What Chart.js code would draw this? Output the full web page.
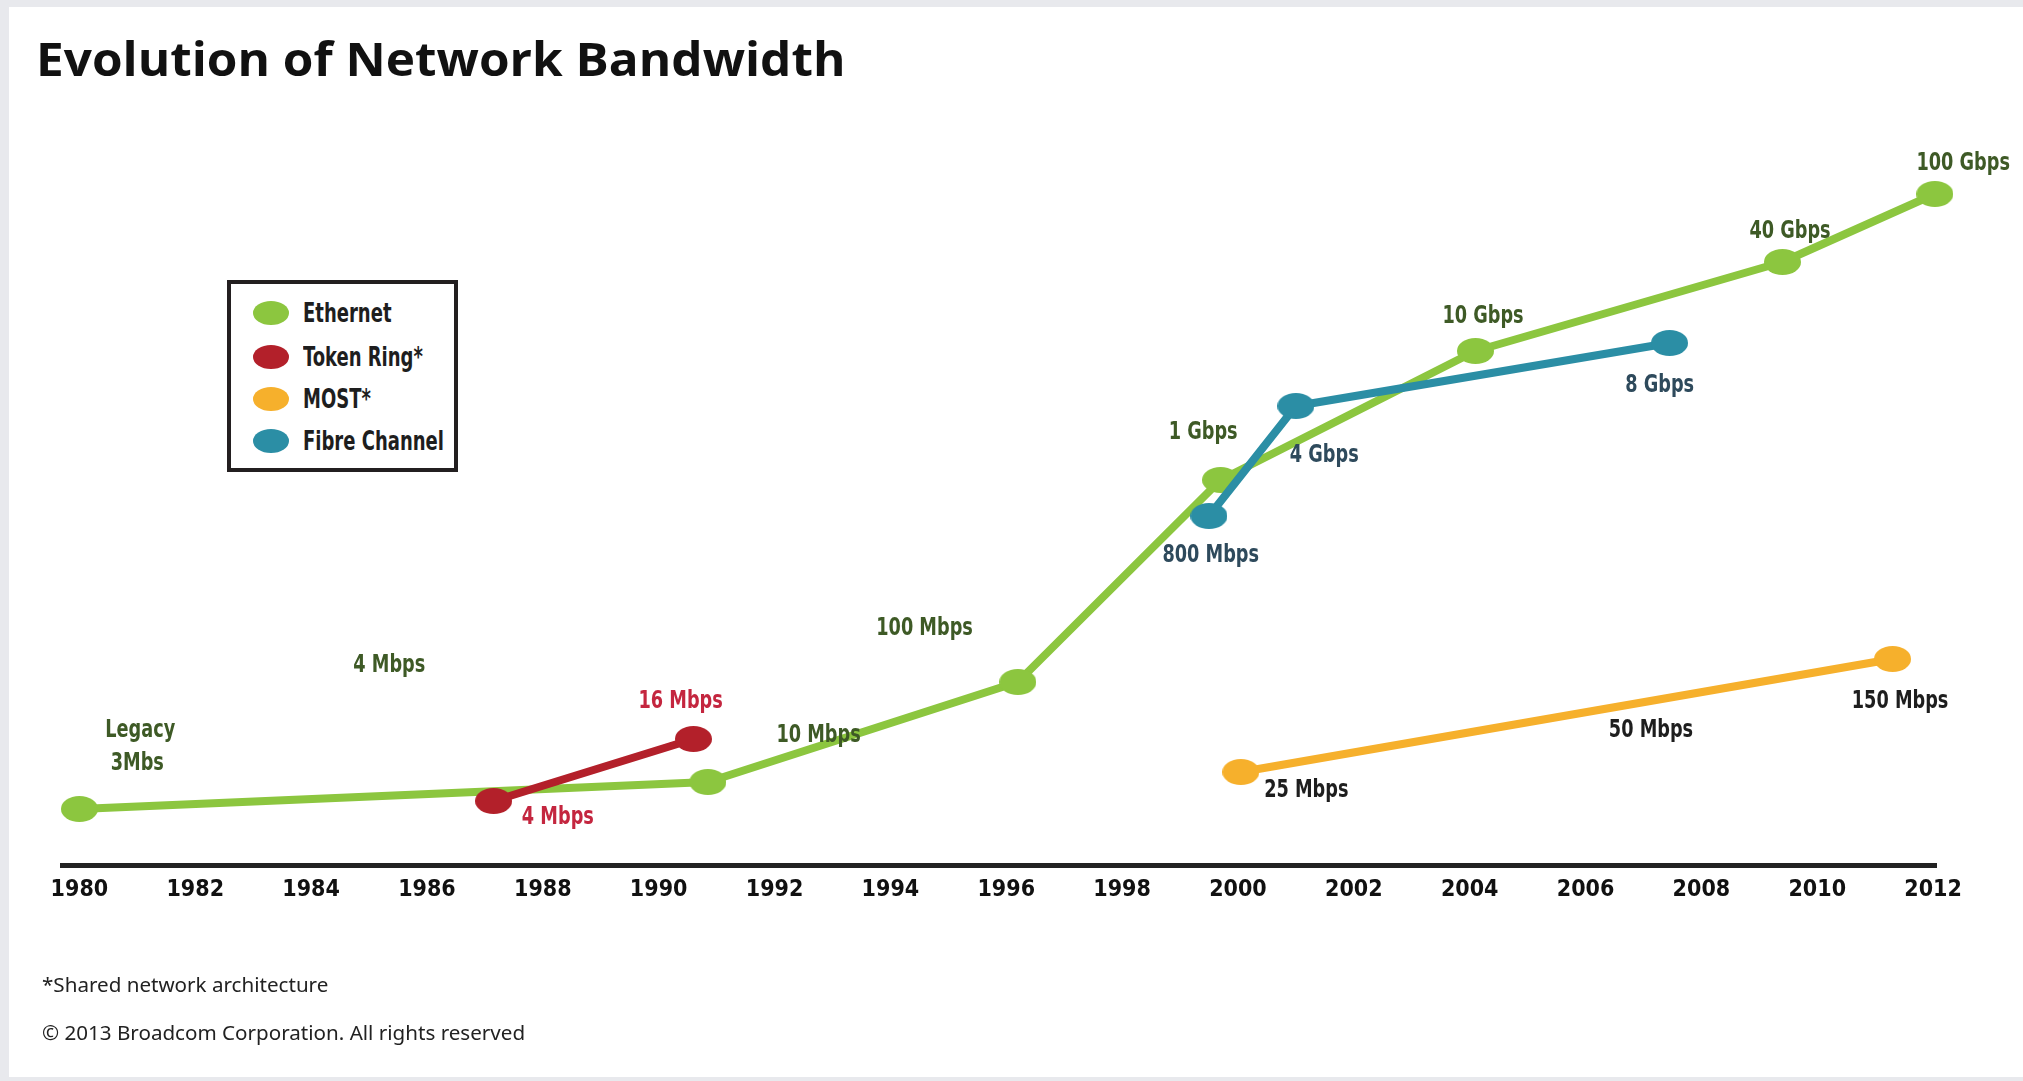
<!DOCTYPE html>
<html>
<head>
<meta charset="utf-8">
<title>Evolution of Network Bandwidth</title>
<script src="https://cdn.jsdelivr.net/npm/chart.js@4.4.1/dist/chart.umd.min.js"></script>
<style>
  html, body { margin: 0; padding: 0; }
  body { width: 2023px; height: 1081px; background: #e8e9ed; position: relative; overflow: hidden; }
  #panel { position: absolute; left: 9px; top: 7px; right: 0; bottom: 4px; background: #fff; }
  #chartWrap { position: absolute; left: 0; top: 0; width: 2023px; height: 1081px; }
  #title { position: absolute; left: 36px; top: 33px; margin: 0; font: bold 47px 'Open Sans', Lato, sans-serif; line-height: 50px; color: #111; white-space: nowrap; transform-origin: 0 50%; }
  .note { position: absolute; left: 42px; margin: 0; font: 20.6px 'Noto Sans', 'Open Sans', sans-serif; line-height: 22px; color: #222; white-space: nowrap; }
  #legendBox { position: absolute; left: 227px; top: 280px; width: 223px; height: 184px; border: 4px solid #231f20; background: #fff; }
  .lg-row { position: absolute; left: 0; height: 30px; display: flex; align-items: center; white-space: nowrap; }
  .lg-dot { width: 36px; height: 24px; border-radius: 50%; margin-left: 22px; margin-right: 14px; flex: none; }
  .lg-text { font: bold 26px 'DejaVu Sans Condensed', sans-serif; color: #1e1e1e; display: inline-block; transform: scaleX(0.77); transform-origin: 0 50%; }
</style>
</head>
<body>
<div id="panel"></div>
<div id="chartWrap"><canvas id="bwChart" width="2023" height="1081"></canvas></div>
<h1 id="title">Evolution of Network Bandwidth</h1>
<div id="legendBox"></div>
<p class="note" style="top:973px">*Shared network architecture</p>
<p class="note" style="top:1021px">© 2013 Broadcom Corporation. All rights reserved</p>

<script>
// series (x = year, y = height above the axis)
const seriesNames = ['Ethernet', 'Token Ring*', 'MOST*', 'Fibre Channel'];
const ethernetYears = [1980, 1990.85, 1996.2, 1999.7, 2004.1, 2009.4, 2012.03];
const ethernetLevels = [5.6, 8.3, 18.3, 38.5, 51.4, 60.3, 67.1];
const tokenRingYears = [1987.15, 1990.6];
const tokenRingLevels = [6.4, 12.6];
const mostYears = [2000.05, 2011.3];
const mostLevels = [9.3, 20.6];
const fibreYears = [1999.5, 2001.0, 2007.45];
const fibreLevels = [34.9, 45.9, 52.2];

// axis
const tickYears = [1980, 1982, 1984, 1986, 1988, 1990, 1992, 1994, 1996, 1998, 2000, 2002, 2004, 2006, 2008, 2010, 2012];

// speed labels written next to the lines
const labelTexts = ['Legacy', '3Mbs', '4 Mbps', '16 Mbps', '4 Mbps', '10 Mbps', '100 Mbps', '1 Gbps', '800 Mbps',
  '4 Gbps', '10 Gbps', '8 Gbps', '40 Gbps', '100 Gbps', '25 Mbps', '50 Mbps', '150 Mbps'];
const labelYears = [1981.05, 1981.0, 1985.35, 1990.38, 1988.26, 1992.76, 1994.59, 1999.4, 1999.53,
  2001.49, 2004.23, 2007.28, 2009.53, 2012.52, 2001.18, 2007.13, 2011.43];
const labelLevels = [13.4, 10.15, 19.95, 16.3, 4.7, 12.9, 23.6, 43.2, 30.9,
  40.9, 54.8, 47.95, 63.3, 70.1, 7.45, 13.4, 16.3];
const labelSeries = [0, 0, 0, 1, 1, 0, 0, 0, 3, 3, 0, 3, 0, 0, 2, 2, 2];

const lineColors = ['#8cc63f', '#b3202a', '#f6b02c', '#2b8ea5'];
const textColors = ['#3e5a26', '#c4263f', '#1e1e1e', '#2e4a5c'];
const FONT = "'DejaVu Sans Condensed', sans-serif";

function ellipse(color) {
    const c = document.createElement('canvas');
    c.width = 37; c.height = 26;
    const g = c.getContext('2d');
    g.fillStyle = color;
    g.beginPath();
    g.ellipse(18.5, 13, 18.5, 13, 0, 0, Math.PI * 2);
    g.fill();
    return c;
}

function pts(xs, ys) {
    return xs.map((x, i) => ({ x, y: ys[i] }));
}

function series(i, xs, ys, order) {
    return {
        label: seriesNames[i],
        data: pts(xs, ys),
        showLine: true,
        borderColor: lineColors[i],
        backgroundColor: lineColors[i],
        borderWidth: 8,
        borderCapStyle: 'round',
        borderJoinStyle: 'round',
        pointStyle: ellipse(lineColors[i]),
        pointRadius: 18,
        pointHoverRadius: 18,
        tension: 0,
        clip: false,
        order
    };
}

// condensed bold labels, squeezed a bit like the original type
const speedLabels = {
    id: 'speedLabels',
    afterDatasetsDraw(chart) {
        const { ctx, scales: { x, y } } = chart;
        ctx.save();
        ctx.font = 'bold 24px ' + FONT;
        ctx.textAlign = 'center';
        ctx.textBaseline = 'middle';
        labelTexts.forEach((t, i) => {
            const px = x.getPixelForValue(labelYears[i]);
            const py = y.getPixelForValue(labelLevels[i]);
            ctx.save();
            ctx.translate(px, py);
            ctx.scale(0.82, 1);
            ctx.fillStyle = textColors[labelSeries[i]];
            ctx.fillText(t, 0, 0);
            ctx.restore();
        });
        ctx.restore();
    }
};

new Chart(document.getElementById('bwChart'), {
    type: 'scatter',
    data: {
        datasets: [
            series(0, ethernetYears, ethernetLevels, 2),
            series(1, tokenRingYears, tokenRingLevels, 1),
            series(2, mostYears, mostLevels, 1),
            series(3, fibreYears, fibreLevels, 1)
        ]
    },
    options: {
        responsive: false,
        animation: false,
        layout: { padding: { left: 62, right: 87, top: 165, bottom: 156 } },
        plugins: { legend: { display: false }, tooltip: { enabled: false }, title: { display: false } },
        scales: {
            x: {
                type: 'linear',
                min: 1979.7,
                max: 2012.05,
                afterBuildTicks: s => { s.ticks = tickYears.map(v => ({ value: v })); },
                afterFit: s => { s.height = 60; },
                grid: { display: false, drawTicks: false },
                border: { display: true, color: '#222', width: 5 },
                ticks: {
                    padding: 11,
                    color: '#111',
                    font: { family: FONT, size: 23, weight: 'bold' },
                    callback: v => String(v)
                }
            },
            y: { type: 'linear', display: false, min: 0, max: 70 }
        }
    },
    plugins: [speedLabels]
});

// legend box
const legendEl = document.getElementById('legendBox');
const rowTops = [14, 58, 100, 142];
legendEl.innerHTML = seriesNames.map((n, i) => `
  <div class="lg-row" style="top:${rowTops[i]}px">
    <div class="lg-dot" style="background:${lineColors[i]}"></div>
    <span class="lg-text">${n}</span>
  </div>`).join('');

// stretch the title to the width it has in the original
const titleEl = document.getElementById('title');
titleEl.style.transform = `scaleX(${809 / titleEl.offsetWidth})`;
</script>
</body>
</html>
